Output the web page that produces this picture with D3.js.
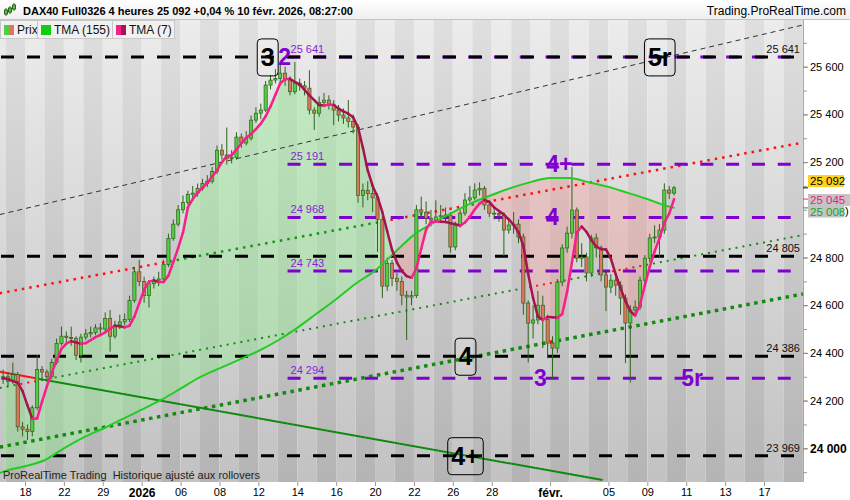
<!DOCTYPE html>
<html lang="fr">
<head>
<meta charset="UTF-8">
<title>DAX40 Full0326 4 heures</title>
<script src="https://d3js.org/d3.v7.min.js"></script>
<style>
  body { margin: 0; background: #fff; }
  svg text { font-family: 'Liberation Sans', Arial, sans-serif; }
</style>
</head>
<body>
<svg id="chart" width="850" height="500"></svg>
<script>
// ---- values (4h bars, 4 per trading day) ----
const firstOpen = 24290;
const firstBarDay = -1.25;
const barsPerDay = 4;

const closes = [
  24300, 24280, 24310, 24090, 24080, 24070, 24170, 24330, 24320, 24300,
  24360, 24440, 24470, 24465, 24460, 24390, 24466, 24480, 24485, 24505,
  24500, 24545, 24470, 24517, 24530, 24540, 24620, 24740, 24700, 24640,
  24690, 24705, 24710, 24770, 24880, 24940, 25000, 25030, 25065, 25070,
  25090, 25110, 25120, 25160, 25250, 25230, 25215, 25220, 25305, 25280,
  25300, 25376, 25405, 25418, 25523, 25544, 25550, 25573, 25545, 25495,
  25531, 25520, 25510, 25418, 25405, 25450, 25460, 25440, 25418, 25397,
  25385, 25370, 25347, 25060, 25082, 25068, 25050, 24960, 24680, 24776,
  24713, 24700, 24642, 24634, 24640, 25000, 24990, 24965, 24957, 24970,
  24975, 24978, 24844, 24936, 24986, 25041, 25050, 25083, 25090, 25020,
  24986, 24985, 24978, 24915, 24936, 24940, 24886, 24609, 24525, 24538,
  24600, 24540, 24441, 24420, 24697, 24840, 24902, 24999, 24797, 24802,
  24735, 24882, 24840, 24727, 24676, 24705, 24684, 24630, 24525, 24580,
  24592, 24705, 24797, 24882, 24886, 24915, 25083, 25070, 25092
];
const highs = [
  24330, 24320, 24360, 24320, 24110, 24100, 24180, 24390, 24345, 24330,
  24375, 24460, 24510, 24490, 24510, 24470, 24480, 24500, 24510, 24520,
  24525, 24570, 24580, 24535, 24560, 24565, 24640, 24760, 24790, 24720,
  24705, 24720, 24740, 24790, 24900, 24960, 25020, 25060, 25080, 25100,
  25110, 25130, 25145, 25180, 25270, 25275, 25345, 25250, 25325, 25320,
  25330, 25395, 25430, 25445, 25540, 25565, 25590, 25615, 25600, 25560,
  25620, 25550, 25540, 25585, 25430, 25475, 25490, 25480, 25460, 25440,
  25425, 25460, 25400, 25360, 25110, 25120, 25090, 25070, 24975, 24800,
  24790, 24735, 24720, 24660, 24660, 25020, 25055, 25035, 25000, 25040,
  25020, 25010, 24990, 24950, 25000, 25070, 25100, 25111, 25115, 25100,
  25040, 25010, 25000, 24990, 24960, 24990, 24960, 24900, 24620, 24600,
  24660, 24640, 24560, 24470, 24710, 24855, 24930, 25179, 25010, 24860,
  24820, 24895, 24900, 24850, 24740, 24730, 24720, 24700, 24645, 24600,
  24620, 24720, 24810, 24900, 24935, 24940, 25111, 25100, 25100
];
const lows = [
  24270, 24260, 24270, 24070, 24050, 24035, 24050, 24160, 24290, 24280,
  24290, 24350, 24430, 24440, 24430, 24370, 24360, 24455, 24465, 24475,
  24480, 24490, 24405, 24460, 24500, 24515, 24530, 24610, 24680, 24610,
  24590, 24670, 24680, 24700, 24760, 24870, 24930, 24985, 25020, 25040,
  25055, 25080, 25095, 25110, 25150, 25210, 25190, 25195, 25210, 25260,
  25270, 25290, 25365, 25380, 25410, 25505, 25530, 25535, 25520, 25480,
  25485, 25500, 25480, 25400, 25335, 25390, 25430, 25420, 25355, 25370,
  25360, 25345, 25320, 25030, 25010, 25040, 24990, 24823, 24630, 24660,
  24680, 24660, 24600, 24454, 24600, 24630, 24965, 24940, 24930, 24945,
  24950, 24950, 24820, 24830, 24925, 24975, 25030, 25040, 25060, 25000,
  24970, 24960, 24950, 24805, 24900, 24900, 24860, 24560, 24360, 24460,
  24520, 24420, 24378, 24290, 24400, 24680, 24820, 24880, 24780, 24760,
  24700, 24720, 24800, 24700, 24575, 24650, 24640, 24560, 24357, 24276,
  24560, 24580, 24690, 24780, 24860, 24800, 24900, 25045, 25060
];
// TMA (7), one value per bar
const tma7 = [
  24295, 24290, 24282, 24275, 24240, 24180, 24124, 24125, 24195, 24260,
  24314, 24369, 24417, 24439, 24449, 24444, 24438, 24441, 24453, 24466,
  24475, 24486, 24502, 24514, 24512, 24507, 24514, 24552, 24609, 24665,
  24699, 24704, 24697, 24697, 24724, 24781, 24839, 24905, 25010, 25045,
  25071, 25093, 25112, 25140, 25166, 25200, 25224, 25229, 25253, 25279,
  25302, 25318, 25338, 25361, 25392, 25433, 25482, 25531, 25547, 25549,
  25536, 25526, 25503, 25480, 25460, 25439, 25437, 25440, 25440, 25424,
  25413, 25403, 25388, 25345, 25260, 25165, 25100, 25055, 24990, 24910,
  24832, 24779, 24744, 24722, 24715, 24755, 24837, 24917, 24950, 24950,
  24950, 24949, 24944, 24940, 24933, 24947, 24971, 25001, 25026, 25041,
  25033, 25010, 24995, 24980, 24960, 24937, 24906, 24850, 24730, 24630,
  24552, 24538, 24551, 24549, 24547, 24563, 24656, 24780, 24904, 24930,
  24907, 24872, 24846, 24835, 24834, 24795, 24729, 24671, 24617, 24575,
  24556, 24602, 24684, 24761, 24826, 24880, 24945, 24984, 25045
];
// TMA (155), read at each trading day boundary
const tma155Days = [-1.3, -1, 0, 1, 2, 3, 4, 5, 6, 7, 8, 9, 10, 11, 12, 13, 14, 15, 16, 17,
  18, 19, 20, 21, 22, 23, 24, 25, 26, 27, 28, 29, 30, 31, 32, 33, 33.4];
const tma155 = [23896, 23905, 23925, 23950, 24000, 24045, 24082, 24122, 24162, 24203,
  24250, 24298, 24335, 24371, 24408, 24452, 24505, 24565, 24625, 24690,
  24745, 24820, 24895, 24945, 24989, 25030, 25062, 25092, 25116, 25133,
  25133, 25115, 25096, 25071, 25045, 25016, 25008];

const dayTicks = [0, 2, 4, 6, 8, 10, 12, 14, 16, 18, 20, 22, 24, 27, 30, 32, 34, 36, 38];
const dayLabels = ["18", "22", "29", "2026", "06", "08", "12", "14", "16", "20", "22",
  "26", "28", "févr.", "05", "09", "11", "13", "17"];
const boldDayLabels = ["2026", "févr."];
const priceTicks = [24000, 24200, 24400, 24600, 24800, 25200, 25400, 25600];

const blackLevels = [25641, 24805, 24386, 23969];
const purpleLevels = [25641, 25191, 24968, 24743, 24294];
const purpleFromDay = 13.5;

// trendlines: [day, price] ends
const trendStart = [[-1.3, 24980], [-1.3, 24650], [-1.3, 24253], [-1.3, 24005], [-1.3, 24321]];
const trendEnd = [[40, 25775], [40, 25282], [40, 24894], [40, 24647], [29.7, 23867]];

const boxTexts = ["3", "5r", "4", "4+"];
const boxDays = [12.48, 32.64, 22.65, 22.65];
const boxPrices = [25641, 25641, 24386, 23969];
const waveTexts = ["2", "4+", "4", "3", "5r"];
const waveDays = [13.35, 27.48, 27.12, 26.5, 34.3];
const wavePrices = [25641, 25191, 24968, 24294, 24294];

// ---- layout ----
const plot = { left: 0, right: 803, top: 20, bottom: 482 };
const purple = "#8000d0";
const pinkUp = "#f5208a", pinkDown = "#a3154f";
const fmt = d3.formatLocale({ decimal: ",", thousands: " ", grouping: [3], currency: ["", " €"] }).format(",");

const x = d3.scaleLinear().domain([0, 38]).range([25, 764]);
const y = d3.scaleLinear().domain([24000, 25600]).range([448.3, 66.7]);
const barDay = i => firstBarDay + (i + 0.5) / barsPerDay;

const svg = d3.select("#chart");
const defs = svg.append("defs");

function vGrad(id, y1, y2, top, bottom) {
  const g = defs.append("linearGradient").attr("id", id)
    .attr("gradientUnits", "userSpaceOnUse")
    .attr("x1", 0).attr("y1", y1).attr("x2", 0).attr("y2", y2);
  g.append("stop").attr("offset", 0).attr("stop-color", top);
  g.append("stop").attr("offset", 1).attr("stop-color", bottom);
}
vGrad("stripeLight", plot.top, plot.bottom, "#ececec", "#c2c2c2");
vGrad("stripeDark", plot.top, plot.bottom, "#dfdfdf", "#b4b4b4");
vGrad("hdr", 0, 20, "#ffffff", "#eeeeee");

defs.append("clipPath").attr("id", "plotClip").append("rect")
  .attr("x", plot.left).attr("y", plot.top)
  .attr("width", plot.right - plot.left).attr("height", plot.bottom - plot.top);

const greenToTop = d3.area().curve(d3.curveMonotoneX)
  .x((d, i) => x(tma155Days[i])).y0(plot.top).y1(d => y(d));
const greenToBottom = d3.area().curve(d3.curveMonotoneX)
  .x((d, i) => x(tma155Days[i])).y0(plot.bottom).y1(d => y(d));
defs.append("clipPath").attr("id", "aboveGreen").append("path").attr("d", greenToTop(tma155));
defs.append("clipPath").attr("id", "belowGreen").append("path").attr("d", greenToBottom(tma155));

svg.append("rect").attr("width", 850).attr("height", 500).attr("fill", "#fff");

// ---- plot background: one stripe per trading day ----
const plotG = svg.append("g").attr("clip-path", "url(#plotClip)");
plotG.selectAll("rect.day")
  .data(d3.range(-2, 41))
  .join("rect")
  .attr("class", "day")
  .attr("x", d => x(d)).attr("y", plot.top)
  .attr("width", d => x(d + 1) - x(d)).attr("height", plot.bottom - plot.top)
  .attr("fill", d => (d % 2 === 0 ? "url(#stripeLight)" : "url(#stripeDark)"));

// ---- fill between TMA(7) and TMA(155) ----
const pinkToBottom = d3.area().x((d, i) => x(barDay(i))).y0(plot.bottom).y1(d => y(d));
const pinkToTop = d3.area().x((d, i) => x(barDay(i))).y0(plot.top).y1(d => y(d));
plotG.append("path").attr("d", pinkToBottom(tma7))
  .attr("clip-path", "url(#aboveGreen)").attr("fill", "rgba(150,235,150,0.45)");
plotG.append("path").attr("d", pinkToTop(tma7))
  .attr("clip-path", "url(#belowGreen)").attr("fill", "rgba(245,150,150,0.35)");

// ---- trendlines (red where the close is under the line, green where above) ----
const trendStyles = [
  { width: 1, dash: "5,4", fixed: "#333" },
  { width: 2.5, dash: "2.5,5" },
  { width: 2, dash: "2,5" },
  { width: 3.5, dash: "3.5,4.5" },
  { width: 2, dash: null }
];
const trendGreen = ["", "#179317", "#168a16", "#0f8a0f", "#0b8a0b"];
const trendRed = "#ff1010";

trendStart.forEach((s, k) => {
  const e = trendEnd[k], st = trendStyles[k];
  const lineAt = d => s[1] + (d - s[0]) / (e[0] - s[0]) * (e[1] - s[1]);
  const draw = (color, clip) => plotG.append("line")
    .attr("x1", x(s[0])).attr("y1", y(s[1]))
    .attr("x2", x(e[0])).attr("y2", y(e[1]))
    .attr("stroke", color).attr("stroke-width", st.width)
    .attr("stroke-dasharray", st.dash)
    .attr("clip-path", clip ? `url(#${clip})` : null);
  if (st.fixed) { draw(st.fixed, null); return; }
  const below = closes.map((c, i) => c < lineAt(barDay(i)));
  ["under", "over"].forEach(side => {
    const id = `trend${k}${side}`;
    defs.append("clipPath").attr("id", id).selectAll("rect")
      .data(closes.map((c, i) => i).filter(i => below[i] === (side === "under")))
      .join("rect")
      .attr("x", i => (i === 0 ? plot.left : x(barDay(i) - 0.5 / barsPerDay)))
      .attr("width", i => (i === closes.length - 1 ? plot.right : x(barDay(i) + 0.5 / barsPerDay))
        - (i === 0 ? plot.left : x(barDay(i) - 0.5 / barsPerDay)) + 0.3)
      .attr("y", plot.top).attr("height", plot.bottom - plot.top);
    draw(side === "under" ? trendRed : trendGreen[k], id);
  });
});

// ---- horizontal levels ----
plotG.selectAll("line.plevel")
  .data(purpleLevels)
  .join("line")
  .attr("class", "plevel")
  .attr("x1", x(purpleFromDay)).attr("x2", 800)
  .attr("y1", d => y(d)).attr("y2", d => y(d))
  .attr("stroke", purple).attr("stroke-width", 3).attr("stroke-dasharray", "13,12.8");
plotG.selectAll("text.plabel")
  .data(purpleLevels)
  .join("text")
  .attr("class", "plabel")
  .attr("x", x(purpleFromDay) + 3).attr("y", d => y(d) - 4)
  .attr("font-size", 11).attr("fill", "#8a20d8")
  .text(d => fmt(d));

plotG.selectAll("line.blevel")
  .data(blackLevels)
  .join("line")
  .attr("class", "blevel")
  .attr("x1", 1).attr("x2", 800)
  .attr("y1", d => y(d)).attr("y2", d => y(d))
  .attr("stroke", "#000").attr("stroke-width", 3).attr("stroke-dasharray", "13,13");
plotG.selectAll("text.blabel")
  .data(blackLevels)
  .join("text")
  .attr("class", "blabel")
  .attr("x", 800).attr("y", d => y(d) - 4)
  .attr("text-anchor", "end").attr("font-size", 11).attr("fill", "#111")
  .text(d => fmt(d));

// ---- candles ----
const bars = closes.map((c, i) => ({
  day: barDay(i), o: i ? closes[i - 1] : firstOpen, h: highs[i], l: lows[i], c
}));
const candle = plotG.append("g").selectAll("g").data(bars).join("g");
candle.append("line")
  .attr("x1", d => x(d.day)).attr("x2", d => x(d.day))
  .attr("y1", d => y(d.h)).attr("y2", d => y(d.l))
  .attr("stroke", "#2b641c").attr("stroke-width", 1);
candle.append("rect")
  .attr("x", d => x(d.day) - 1.6).attr("width", 3.2)
  .attr("y", d => y(Math.max(d.o, d.c)))
  .attr("height", d => Math.max(1, Math.abs(y(d.o) - y(d.c))))
  .attr("fill", d => (d.c >= d.o ? "#55cc44" : "#e2735e"))
  .attr("stroke", "#2b641c").attr("stroke-width", 0.7);

// ---- moving averages ----
plotG.append("path")
  .attr("d", d3.line().curve(d3.curveMonotoneX)
    .x((d, i) => x(tma155Days[i])).y(d => y(d))(tma155))
  .attr("fill", "none").attr("stroke", "#22cc22").attr("stroke-width", 2);

const seg = d3.line().x(d => x(d[0])).y(d => y(d[1]));
plotG.append("g").selectAll("path")
  .data(d3.range(1, tma7.length))
  .join("path")
  .attr("d", i => seg([[barDay(i - 1), tma7[i - 1]], [barDay(i), tma7[i]]]))
  .attr("fill", "none").attr("stroke-width", 2.5).attr("stroke-linecap", "round")
  .attr("stroke", i => (tma7[i] >= tma7[i - 1] ? pinkUp : pinkDown));

// ---- wave annotations ----
const boxG = plotG.append("g").selectAll("g").data(boxTexts).join("g");
boxG.each(function (t, i) {
  const g = d3.select(this);
  const cx = x(boxDays[i]), cy = y(boxPrices[i]);
  const txt = g.append("text")
    .attr("x", cx).attr("y", cy + 9)
    .attr("text-anchor", "middle").attr("font-size", 25).attr("font-weight", "bold")
    .attr("fill", "#000").text(t);
  const w = txt.node().getComputedTextLength() + 7;
  g.insert("rect", "text")
    .attr("x", cx - w / 2).attr("y", cy - 18).attr("width", w).attr("height", 37)
    .attr("rx", 4).attr("fill", "rgba(255,255,255,0.05)")
    .attr("stroke", "#000").attr("stroke-width", 1);
});
plotG.selectAll("text.wave")
  .data(waveTexts)
  .join("text")
  .attr("class", "wave")
  .attr("x", (d, i) => x(waveDays[i])).attr("y", (d, i) => y(wavePrices[i]) + 8)
  .attr("text-anchor", "middle").attr("font-size", 23).attr("font-weight", "bold")
  .attr("fill", purple)
  .text(d => d);

// ---- header ----
svg.append("rect").attr("width", 850).attr("height", 20).attr("fill", "url(#hdr)");
svg.append("line").attr("x1", 0).attr("x2", 850).attr("y1", 19.5).attr("y2", 19.5)
  .attr("stroke", "#c4c4c4");
const icon = svg.append("g").attr("stroke", "#2b641c").attr("fill", "#55cc44");
[[6, 8, 16, 10, 14], [10, 6, 14, 8, 12], [14, 3, 11, 5, 9]].forEach(c => {
  icon.append("line").attr("x1", c[0]).attr("x2", c[0]).attr("y1", c[1]).attr("y2", c[2]);
  icon.append("rect").attr("x", c[0] - 1.5).attr("width", 3).attr("y", c[3]).attr("height", c[4] - c[3]);
});
svg.append("text").attr("x", 23).attr("y", 15)
  .attr("font-size", 11).attr("font-weight", "bold").attr("fill", "#000")
  .text("DAX40 Full0326 4 heures 25 092 +0,04 % 10 févr. 2026, 08:27:00");
svg.append("text").attr("x", 846).attr("y", 15).attr("text-anchor", "end")
  .attr("font-size", 12).attr("fill", "#000").text("Trading.ProRealTime.com");

// ---- legend ----
const legendItems = [
  { label: "Prix", x0: 0, x1: 37, colors: ["#55cc44", "#e2735e"] },
  { label: "TMA (155)", x0: 37, x1: 112, colors: ["#11cc11", "#11cc11"] },
  { label: "TMA (7)", x0: 112, x1: 174, colors: [pinkUp, pinkDown] }
];
const lg = svg.append("g").selectAll("g").data(legendItems).join("g");
lg.append("rect")
  .attr("x", d => d.x0 + 0.5).attr("y", 20.5).attr("width", d => d.x1 - d.x0).attr("height", 18)
  .attr("fill", "#f1f1f1").attr("stroke", "#c8c8c8");
lg.append("rect").attr("x", d => d.x0 + 4).attr("y", 25).attr("width", 5).attr("height", 10)
  .attr("fill", d => d.colors[0]);
lg.append("rect").attr("x", d => d.x0 + 9).attr("y", 25).attr("width", 5).attr("height", 10)
  .attr("fill", d => d.colors[1]);
lg.append("text").attr("x", d => d.x0 + 17).attr("y", 34)
  .attr("font-size", 12).attr("fill", "#111").text(d => d.label);

// ---- right price axis ----
svg.append("line").attr("x1", plot.right + 0.5).attr("x2", plot.right + 0.5)
  .attr("y1", plot.top).attr("y2", plot.bottom + 4).attr("stroke", "#a8a8a8");
const minorAxis = svg.append("g").attr("transform", `translate(${plot.right},0)`)
  .call(d3.axisRight(y).tickValues(d3.range(23900, 25800, 100)).tickSize(4).tickFormat(""));
minorAxis.select(".domain").remove();
minorAxis.selectAll("line").attr("stroke", "#999");
const yAxis = svg.append("g").attr("transform", `translate(${plot.right},0)`)
  .call(d3.axisRight(y).tickValues(priceTicks).tickSize(5).tickPadding(2).tickFormat(fmt));
yAxis.select(".domain").remove();
yAxis.selectAll("line").attr("stroke", "#888");
yAxis.selectAll("text")
  .attr("font-family", "'Liberation Sans', Arial, sans-serif")
  .attr("font-size", d => (d === 24000 ? 12 : 11))
  .attr("font-weight", d => (d === 24000 ? "bold" : "normal"))
  .attr("fill", "#000");

// badges for last values
const last = closes.length - 1;
const badges = [
  { v: closes[last], yc: 181, bg: "#ffd21e", fg: "#000", tick: "#000", w: 36 },
  { v: tma7[last], yc: 200, bg: "#c4c4c4", fg: "#ea1a86", tick: pinkUp, w: 42 },
  { v: tma155[tma155.length - 1], yc: 211.5, bg: "#c4c4c4", fg: "#16a516", tick: "#16a516", w: 36 }
];
const bg = svg.append("g").selectAll("g").data(badges).join("g");
bg.append("line").attr("x1", plot.right).attr("x2", plot.right + 5)
  .attr("y1", d => y(d.v)).attr("y2", d => y(d.v)).attr("stroke", d => d.tick);
bg.append("rect").attr("x", 808).attr("y", d => d.yc - 6).attr("width", d => d.w).attr("height", 12)
  .attr("fill", d => d.bg);
bg.append("text").attr("x", 810).attr("y", d => d.yc + 4)
  .attr("font-size", 11.5).attr("fill", d => d.fg).text(d => fmt(d.v));
svg.append("text").attr("x", 845).attr("y", 215).attr("font-size", 11).attr("fill", "#000").text(")");

// ---- time axis ----
svg.append("rect").attr("x", 0).attr("y", plot.bottom).attr("width", 850).attr("height", 18)
  .attr("fill", "#fff");
const xAxis = svg.append("g").attr("transform", `translate(0,${plot.bottom})`)
  .call(d3.axisBottom(x).tickValues(dayTicks).tickSize(4).tickPadding(2)
    .tickFormat((d, i) => dayLabels[i]));
xAxis.select(".domain").remove();
xAxis.selectAll("line").attr("stroke", "#999");
xAxis.selectAll("text")
  .attr("font-family", "'Liberation Sans', Arial, sans-serif")
  .attr("fill", "#000")
  .attr("font-size", (d, i) => (boldDayLabels.includes(dayLabels[i]) ? 12 : 11))
  .attr("font-weight", (d, i) => (boldDayLabels.includes(dayLabels[i]) ? "bold" : "normal"));

svg.append("text").attr("x", 3).attr("y", 479)
  .attr("font-size", 11).attr("fill", "#222")
  .text("ProRealTime Trading\u00a0 Historique ajusté aux rollovers");
</script>
</body>
</html>
